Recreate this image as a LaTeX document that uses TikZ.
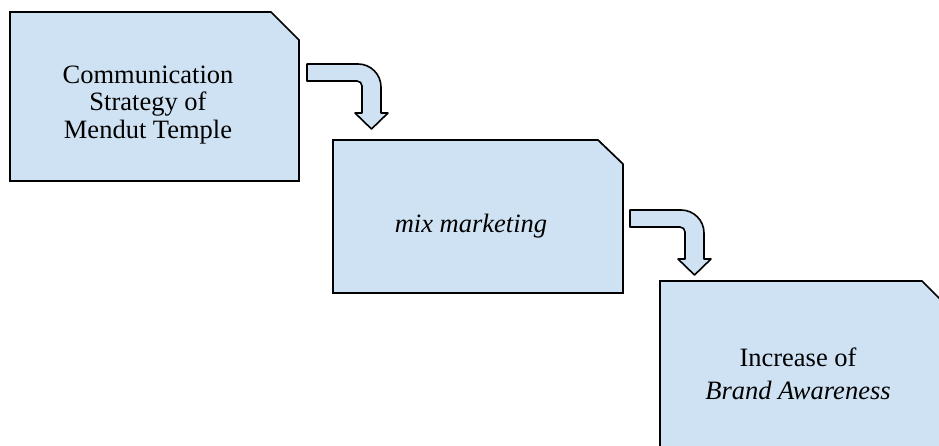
\documentclass[tikz,border=0pt]{standalone}
\usepackage{fontspec}
\setmainfont{Liberation Serif}
\definecolor{boxfill}{RGB}{207,226,243}
\begin{document}
\begin{tikzpicture}[x=1pt,y=1pt,
  card/.style={draw=black, line width=1.7pt, fill=boxfill, line join=miter},
  label/.style={font=\fontsize{26.5}{27.5}\selectfont, align=center, inner sep=0pt},
  bendarrow/.pic={
    \draw[card, line width=1.6pt, line join=round]
      (0,0) -- (51,0) arc[start angle=90, end angle=0, radius=23]
      -- (74,-49) -- (81,-49) -- (64.5,-65) -- (48,-49) -- (55,-49)
      -- (55,-22) arc[start angle=0, end angle=90, radius=5]
      -- (0,-17) -- cycle;
  }
]
\useasboundingbox (0,0) rectangle (939,445);
\clip (0,0) rectangle (939,445);

% cards with a clipped top-right corner
\draw[card] (10,264) -- (10,433) -- (271,433) -- (299,405) -- (299,264) -- cycle;
\draw[card] (333,152) -- (333,305) -- (598,305) -- (623,281) -- (623,152) -- cycle;
\draw[card] (660,-5) -- (660,164) -- (922,164) -- (950,136) -- (950,-5) -- cycle;

% card texts
\node[label] (strategy) at (148,340) {Communication\\Strategy of\\Mendut Temple};
\node[label] (mix) at (471,219) {\textit{mix marketing}};
\node[label] (awareness) at (798,71) {Increase of\\[5pt]\textit{Brand Awareness}};

% bent arrows between the cards
\pic at (307,381) {bendarrow};
\pic at (630,235) {bendarrow};
\end{tikzpicture}
\end{document}
